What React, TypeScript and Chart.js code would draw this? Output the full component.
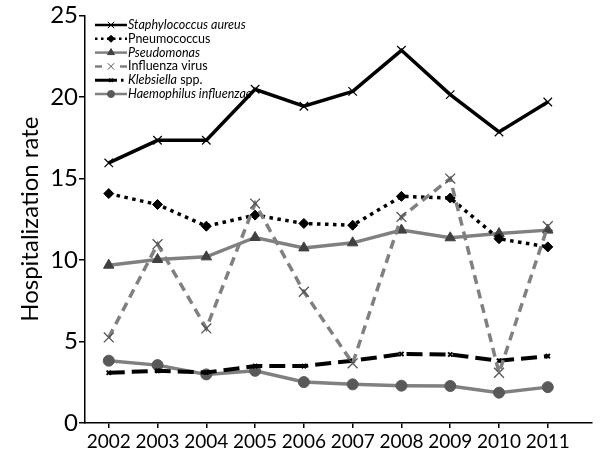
import React, { useEffect, useRef } from 'react';
import { Chart, registerables } from 'chart.js';
import { drawPoint } from 'chart.js/helpers';

Chart.register(...registerables);

const years = [2002, 2003, 2004, 2005, 2006, 2007, 2008, 2009, 2010, 2011];
const staph = [15.95, 17.34, 17.34, 20.47, 19.43, 20.34, 22.86, 20.14, 17.85, 19.69];
const pneumo = [14.07, 13.4, 12.07, 12.75, 12.24, 12.13, 13.9, 13.8, 11.3, 10.8];
const pseudo = [9.68, 10.03, 10.19, 11.38, 10.74, 11.05, 11.83, 11.36, 11.62, 11.83];
const influenza = [5.25, 10.97, 5.8, 13.46, 8.05, 3.66, 12.64, 14.99, 3.08, 12.07];
const klebsiella = [3.08, 3.2, 3.1, 3.49, 3.49, 3.82, 4.23, 4.2, 3.82, 4.1];
const haemophilus = [3.82, 3.55, 2.98, 3.2, 2.51, 2.37, 2.29, 2.27, 1.86, 2.2];

const legendLabels = [
  [{ t: 'Staphylococcus aureus', i: true }],
  [{ t: 'Pneumococcus', i: false }],
  [{ t: 'Pseudomonas', i: true }],
  [{ t: 'Influenza virus', i: false }],
  [{ t: 'Klebsiella', i: true }, { t: ' spp.', i: false }],
  [{ t: 'Haemophilus influenzae', i: true }],
];

const FONT = 'Lato, "Open Sans", sans-serif';
const GRAY = '#808080';

const legendSamples = [
  { color: '#000', dash: [], lw: 2.5, style: 'crossRot', r: 4.5, fill: '#000', stroke: '#000', bw: 1 },
  { color: '#000', dash: [2.5, 3.5], lw: 2.5, style: 'rectRot', r: 3.5, fill: '#000', stroke: '#000', bw: 1 },
  { color: GRAY, dash: [], lw: 2.5, style: 'triangle', r: 4, fill: '#404040', stroke: '#404040', bw: 1 },
  { color: GRAY, dash: [7, 18], lw: 2.5, style: 'crossRot', r: 4.5, fill: '#555', stroke: '#555', bw: 1 },
  { color: '#000', dash: [22, 4, 2.5, 20], lw: 3, style: 'crossRot', r: 2.5, fill: '#000', stroke: '#000', bw: 1.5 },
  { color: GRAY, dash: [], lw: 2.5, style: 'circle', r: 3.5, fill: '#595959', stroke: '#595959', bw: 1 },
];

const legendPlugin = {
  id: 'customLegend',
  afterDraw(chart: any) {
    const ctx = chart.ctx as CanvasRenderingContext2D;
    const x0 = 95;
    const x1 = 127;
    const tx = 128;
    legendLabels.forEach((segs, i) => {
      const y = 25 + i * 13.8;
      const s = legendSamples[i];
      ctx.save();
      ctx.strokeStyle = s.color;
      ctx.lineWidth = s.lw;
      ctx.setLineDash(s.dash);
      ctx.beginPath();
      ctx.moveTo(x0, y);
      ctx.lineTo(x1, y);
      ctx.stroke();
      ctx.setLineDash([]);
      ctx.fillStyle = s.fill;
      ctx.strokeStyle = s.stroke;
      ctx.lineWidth = s.bw;
      drawPoint(ctx, { pointStyle: s.style, radius: s.r, borderWidth: s.bw, rotation: 0 } as any, 111, y);
      ctx.restore();
      ctx.save();
      ctx.fillStyle = '#000';
      ctx.textBaseline = 'middle';
      ctx.textAlign = 'left';
      let x = tx;
      segs.forEach((seg) => {
        ctx.font = `${seg.i ? 'italic ' : ''}12.5px ${FONT}`;
        ctx.fillText(seg.t, x, y);
        x += ctx.measureText(seg.t).width;
      });
      ctx.restore();
    });
  },
};

function pts(vals: number[]) {
  return years.map((yr, i) => ({ x: yr, y: vals[i] }));
}

export default function App() {
  const ref = useRef<HTMLCanvasElement | null>(null);
  useEffect(() => {
    if (!ref.current) return;
    Chart.defaults.font.family = FONT;
    const chart = new Chart(ref.current, {
      type: 'line',
      data: {
        datasets: [
          {
            label: 'Staphylococcus aureus',
            data: pts(staph),
            borderColor: '#000',
            borderWidth: 3.5,
            pointStyle: 'crossRot',
            pointRadius: 6,
            pointBorderWidth: 1.2,
            pointBorderColor: '#000',
            pointBackgroundColor: '#000',
            order: 0,
          },
          {
            label: 'Pneumococcus',
            data: pts(pneumo),
            borderColor: '#000',
            borderWidth: 3.5,
            borderDash: [3.5, 4.5],
            pointStyle: 'rectRot',
            pointRadius: 5,
            pointBorderWidth: 1,
            pointBorderColor: '#000',
            pointBackgroundColor: '#000',
            order: 2,
          },
          {
            label: 'Pseudomonas',
            data: pts(pseudo),
            borderColor: GRAY,
            borderWidth: 3.5,
            pointStyle: 'triangle',
            pointRadius: 6,
            pointBorderWidth: 1,
            pointBorderColor: '#404040',
            pointBackgroundColor: '#404040',
            order: 3,
          },
          {
            label: 'Influenza virus',
            data: pts(influenza),
            borderColor: GRAY,
            borderWidth: 3.5,
            borderDash: [9, 6],
            pointStyle: 'crossRot',
            pointRadius: 7,
            pointBorderWidth: 1.3,
            pointBorderColor: '#555',
            pointBackgroundColor: '#555',
            order: 1,
          },
          {
            label: 'Klebsiella spp.',
            data: pts(klebsiella),
            borderColor: '#000',
            borderWidth: 4,
            borderDash: [16, 7],
            pointStyle: 'crossRot',
            pointRadius: 3,
            pointBorderWidth: 2,
            pointBorderColor: '#000',
            pointBackgroundColor: '#000',
            order: 4,
          },
          {
            label: 'Haemophilus influenzae',
            data: pts(haemophilus),
            borderColor: GRAY,
            borderWidth: 3.5,
            pointStyle: 'circle',
            pointRadius: 5.5,
            pointBorderWidth: 1,
            pointBorderColor: '#595959',
            pointBackgroundColor: '#595959',
            order: 5,
          },
        ],
      },
      options: {
        animation: false,
        responsive: false,
        devicePixelRatio: 1,
        layout: { padding: { top: 15, right: 3, left: 0, bottom: 0 } },
        plugins: { legend: { display: false }, tooltip: { enabled: false } },
        elements: { line: { tension: 0 } },
        scales: {
          x: {
            type: 'linear',
            min: 2001.513,
            max: 2011.9,
            afterBuildTicks: (s: any) => {
              s.ticks = years.map((v) => ({ value: v }));
            },
            afterFit: (s: any) => {
              s.height = 45;
            },
            ticks: {
              autoSkip: false,
              maxRotation: 0,
              color: '#000',
              padding: 2,
              font: { size: 19, family: FONT },
              callback: (v: any) => String(v),
            },
            grid: { drawOnChartArea: false, drawTicks: true, tickLength: 5, color: '#000', lineWidth: 1.5 },
            border: { color: '#000', width: 1.5 },
          },
          y: {
            min: 0,
            max: 25,
            afterFit: (s: any) => {
              s.width = 85;
            },
            ticks: {
              stepSize: 5,
              color: '#000',
              padding: 1,
              font: { size: 24, family: FONT },
            },
            grid: { drawOnChartArea: false, drawTicks: true, tickLength: 6, color: '#000', lineWidth: 1.5 },
            border: { color: '#000', width: 1.5 },
            title: {
              display: true,
              text: 'Hospitalization rate',
              color: '#000',
              font: { size: 24, family: FONT },
              padding: { top: 16, bottom: 0 },
            },
          },
        },
      },
      plugins: [legendPlugin],
    } as any);
    return () => chart.destroy();
  }, []);
  return (
    <div style={{ position: 'fixed', left: 0, top: 0, width: 600, height: 468, background: '#fff' }}>
      <canvas ref={ref} width={600} height={468} style={{ width: 600, height: 468 }} />
    </div>
  );
}
